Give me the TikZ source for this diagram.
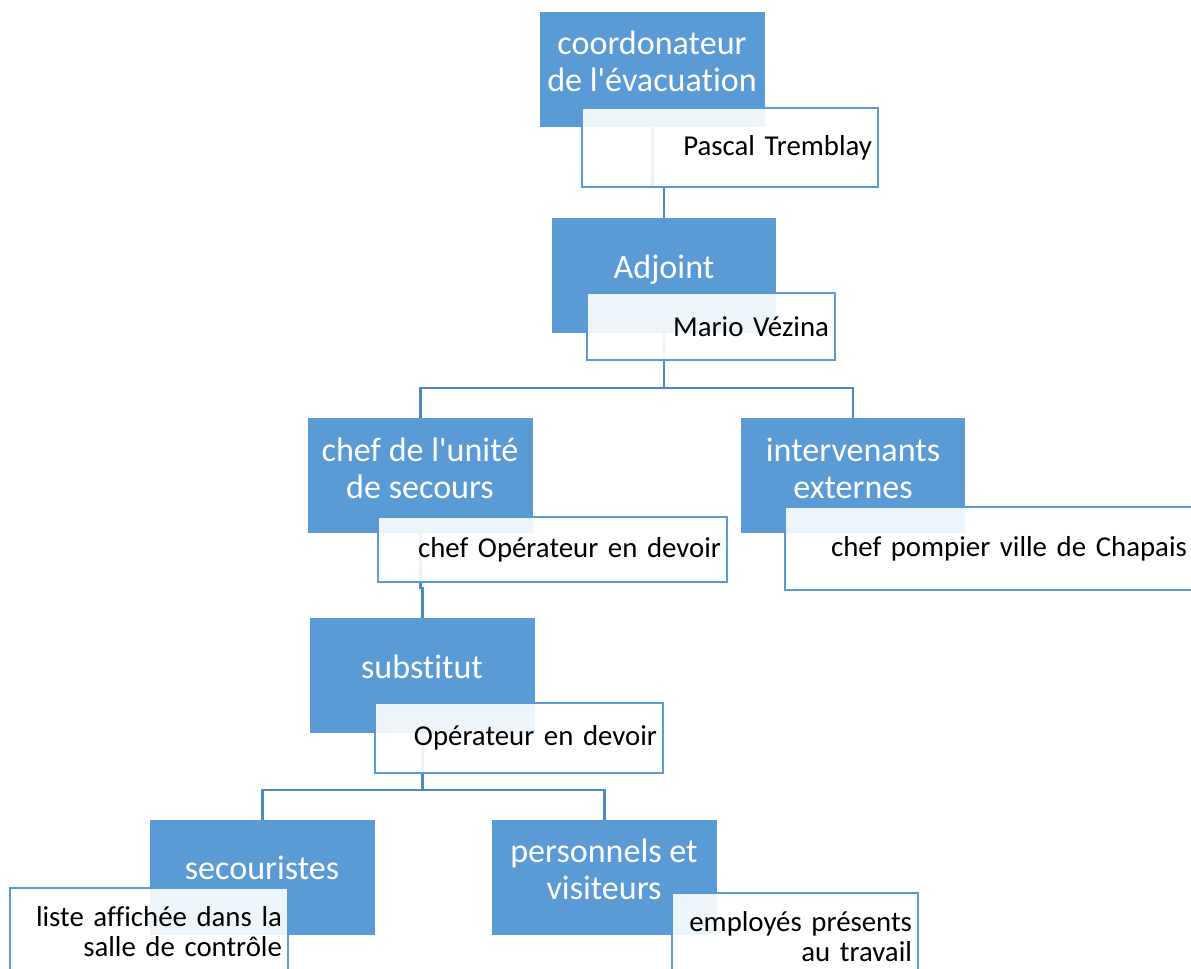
\documentclass[tikz,border=0pt]{standalone}
\usepackage{fontspec}
\setmainfont{Carlito}[Ligatures=TeXOff, RawFeature={-liga;-clig;-calt;-dlig}]
\usepackage{xcolor}
\definecolor{accent}{RGB}{91,155,213}
\definecolor{linkblue}{RGB}{76,136,196}

\begin{document}
\begin{tikzpicture}[x=0.02cm, y=-0.02cm,
  boss/.style={fill=accent, minimum width=4.5cm, minimum height=2.3cm, inner sep=0pt},
  bosstxt/.style={text=white, align=center, inner sep=0pt, font=\fontsize{19.4}{21}\selectfont},
  holder/.style={draw=accent, line width=1.4pt, fill=white, fill opacity=0.9, text opacity=1,
                 align=right, inner xsep=0.12cm, inner ysep=0pt, font=\fontsize{16.4}{17.2}\selectfont},
  link/.style={draw=linkblue, line width=1.3pt}]

  \useasboundingbox (0,0) rectangle (1191,969);

  % ----- blue boxes -----
  \node[boss] (coord)  at (652.5,69.5)  {};
  \node[boss] (adj)    at (664,275.5)   {};
  \node[boss] (chef)   at (420.5,475.5) {};
  \node[boss] (interv) at (853,475.5)   {};
  \node[boss] (subst)  at (422.5,675.5) {};
  \node[boss] (secour) at (262.5,877.5) {};
  \node[boss] (perso)  at (604.5,877.5) {};

  \node[bosstxt] (coordtxt)  at (652,61)  {coordonateur\\de l'évacuation};
  \node[bosstxt] (adjtxt)    at (664,270) {Adjoint};
  \node[bosstxt] (cheftxt)   at (420,468) {chef de l'unité\\de secours};
  \node[bosstxt] (intervtxt) at (853,468) {intervenants\\externes};
  \node[bosstxt] (substtxt)  at (422,667) {substitut};
  \node[bosstxt] (secourtxt) at (262,868) {secouristes};
  \node[bosstxt] (persotxt)  at (604,869) {personnels et\\visiteurs};

  % ----- connectors (behind the name boxes) -----
  \coordinate (j1) at (652.5,187);
  \coordinate (split1) at (664,388);
  \coordinate (j3) at (420.5,588);
  \coordinate (split2) at (422.5,790);

  \draw[link] (coord.south) -- (j1) -| (adj.north);
  \draw[link] (adj.south) -- (split1) -| (chef.north);
  \draw[link] (split1) -| (interv.north);
  \draw[link] (chef.south) -- (j3) -| (subst.north);
  \draw[link] (subst.south) -- (split2) -| (secour.north);
  \draw[link] (split2) -| (perso.north);

  % ----- name boxes -----
  \node[holder, minimum width=5.92cm, minimum height=1.58cm, text width=5.68cm] (pascal)
    at (730,147.5) {Pascal Tremblay};
  \node[holder, minimum width=4.96cm, minimum height=1.34cm, text width=4.72cm] (mario)
    at (711,326.5) {Mario Vézina};
  \node[holder, minimum width=6.98cm, minimum height=1.30cm, text width=6.74cm] (opchef)
    at (552.5,549.5) {chef Opérateur en devoir};
  \node[holder, minimum width=8.16cm, minimum height=1.66cm, text width=7.92cm] (pompier)
    at (989,548.5) {chef pompier ville de Chapais};
  \node[holder, minimum width=5.76cm, minimum height=1.40cm, text width=5.52cm] (oper)
    at (519,738) {Opérateur en devoir};
  \node[holder, minimum width=5.56cm, minimum height=1.74cm, text width=5.32cm] (liste)
    at (149,931.5) {liste affichée dans la\\salle de contrôle};
  \node[holder, minimum width=4.92cm, minimum height=1.74cm, text width=4.68cm] (employes)
    at (795,936.5) {employés présents\\au travail};

\end{tikzpicture}
\end{document}
